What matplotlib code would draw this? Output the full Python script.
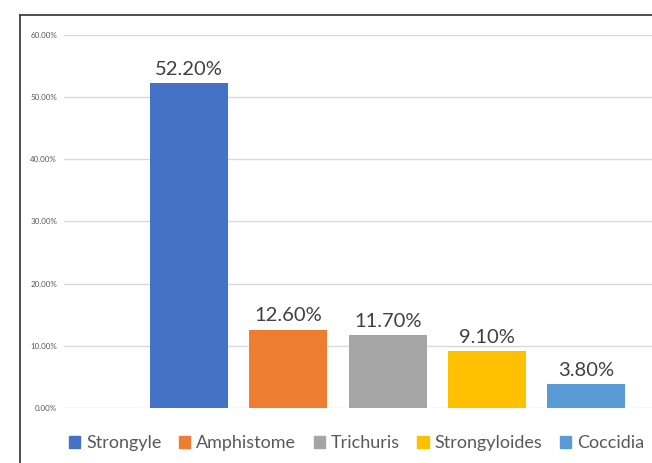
import numpy as np
import matplotlib.pyplot as plt
from matplotlib.lines import Line2D

# data
parasites = ["Strongyle", "Amphistome", "Trichuris", "Strongyloides", "Coccidia"]
prevalence = [0.522, 0.126, 0.117, 0.091, 0.038]
bar_colors = ["#4472C4", "#ED7D31", "#A5A5A5", "#FFC000", "#5B9BD5"]
y_ticks = [0.0, 0.1, 0.2, 0.3, 0.4, 0.5, 0.6]

plt.rcParams['font.family'] = ['Lato', 'DejaVu Sans']

fig = plt.figure(figsize=(6.52, 4.63), dpi=100)
ax = fig.add_axes([64 / 652, 55 / 463, 1 - 64 / 652, (408 - 35) / 463])

x = np.arange(len(parasites))
bars = ax.bar(x, prevalence, width=0.785, color=bar_colors, zorder=3)

for b, v in zip(bars, prevalence):
    ax.text(b.get_x() + b.get_width() / 2, v + 0.009, "%.2f%%" % (v * 100),
            ha="center", va="bottom", fontsize=14.5, color="#404040")

ax.set_xlim(-1.26, 4.66)
ax.set_ylim(0, 0.6)
ax.set_yticks(y_ticks)
ax.set_yticklabels(["%.2f%%" % (t * 100) for t in y_ticks], fontsize=5.8, color="#595959")
ax.set_xticks([])
ax.yaxis.grid(True, color="#D9D9D9", linewidth=1, zorder=0)
ax.tick_params(axis="y", length=0, pad=5)
for s in ax.spines.values():
    s.set_visible(False)

handles = [plt.Rectangle((0, 0), 1, 1, color=c) for c in bar_colors]
fig.legend(handles, parasites, loc="center", bbox_to_anchor=(0.547, 0.043), ncol=5,
           frameon=False, fontsize=13, handlelength=0.62, handleheight=0.62,
           handletextpad=0.35, columnspacing=0.95, labelcolor="#595959")

# outer chart frame (top and left edges visible)
fig.add_artist(Line2D([20 / 652, 20 / 652], [0, 1 - 15 / 463], color="#404040", linewidth=1.3))
fig.add_artist(Line2D([20 / 652, 1], [1 - 15 / 463, 1 - 15 / 463], color="#404040", linewidth=1.3))

fig.savefig("out.png", dpi=100)
